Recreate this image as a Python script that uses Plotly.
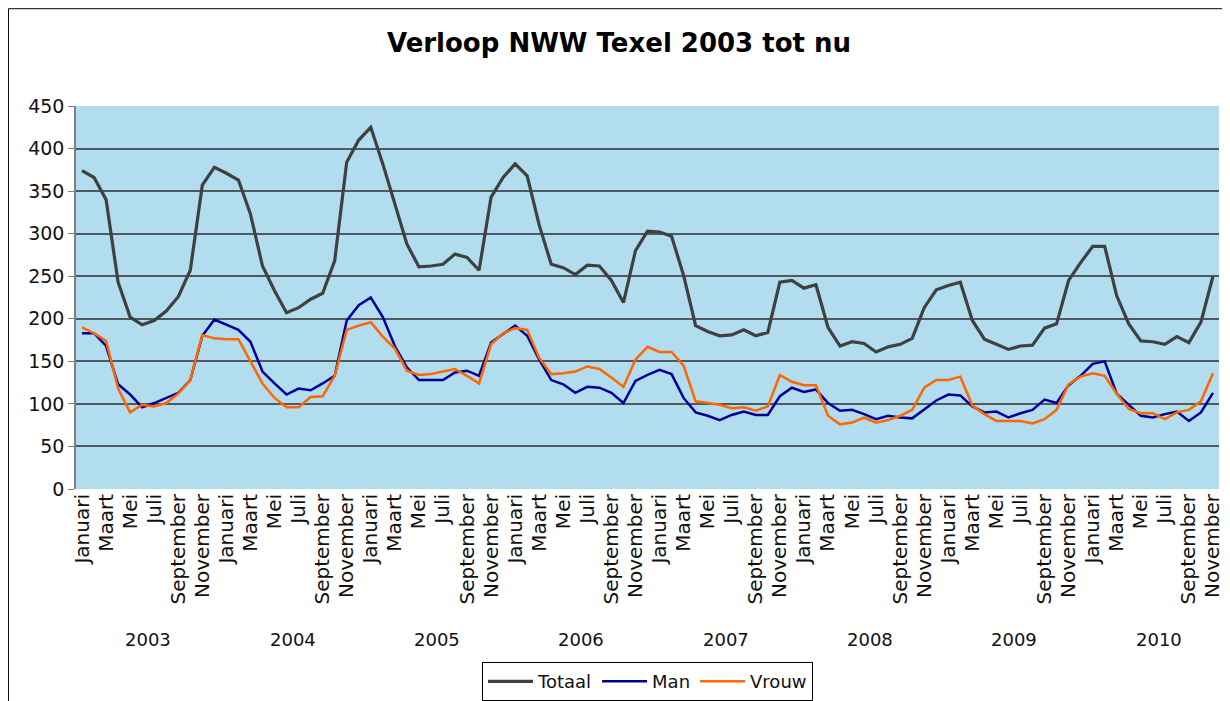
import plotly.graph_objects as go

# maanden jan 2003 .. nov 2010
years = [2003, 2004, 2005, 2006, 2007, 2008, 2009, 2010]
month_names = ["Januari", "Februari", "Maart", "April", "Mei", "Juni",
               "Juli", "Augustus", "September", "Oktober", "November", "December"]

totaal = [374, 366, 340, 243, 202, 193, 198, 209, 226, 257, 357, 378,
          371, 363, 323, 262, 233, 207, 213, 223, 230, 268, 384, 410,
          425, 382, 335, 288, 261, 262, 264, 276, 272, 257, 343, 366,
          382, 368, 310, 264, 260, 252, 263, 262, 245, 219, 280, 303,
          302, 297, 251, 192, 185, 180, 181, 187, 180, 184, 243, 245,
          236, 240, 190, 168, 173, 171, 161, 167, 170, 177, 213, 234,
          239, 243, 198, 176, 170, 164, 168, 169, 189, 194, 245, 266,
          285, 285, 227, 194, 174, 173, 170, 179, 172, 196, 250]

man = [183, 183, 168, 123, 111, 96, 101, 107, 113, 128, 180, 199,
       193, 187, 173, 138, 124, 111, 118, 116, 124, 133, 198, 216,
       225, 202, 168, 143, 128, 128, 128, 137, 139, 133, 172, 182,
       192, 180, 152, 128, 123, 113, 120, 119, 113, 101, 127, 134,
       140, 135, 107, 90, 86, 81, 87, 91, 87, 87, 109, 119,
       114, 117, 101, 92, 93, 88, 82, 86, 84, 83, 93, 104,
       111, 110, 97, 90, 91, 84, 89, 93, 105, 101, 122, 133,
       147, 150, 112, 99, 86, 84, 88, 91, 80, 90, 113]

vrouw = [190, 183, 174, 118, 90, 99, 97, 101, 112, 128, 181, 177,
         176, 176, 150, 124, 107, 96, 96, 108, 109, 133, 187, 192,
         196, 179, 165, 139, 134, 135, 138, 141, 133, 124, 170, 183,
         189, 187, 154, 135, 136, 138, 144, 141, 131, 120, 152, 167,
         161, 161, 145, 103, 101, 99, 95, 96, 92, 97, 134, 126,
         122, 122, 86, 76, 78, 84, 78, 81, 86, 93, 119, 128,
         128, 132, 98, 88, 80, 80, 80, 77, 82, 93, 123, 132,
         136, 133, 112, 94, 89, 89, 82, 90, 93, 103, 136]

x = list(range(len(totaal)))
tick_idx = [i for i in x if i % 2 == 0]
tick_txt = [month_names[i % 12] for i in tick_idx]

fnt = "DejaVu Sans"

fig = go.Figure()
fig.add_trace(go.Scatter(x=x, y=totaal, mode="lines", name="Totaal",
                         line=dict(color="#404040", width=3.2)))
fig.add_trace(go.Scatter(x=x, y=man, mode="lines", name="Man",
                         line=dict(color="#000099", width=2.5)))
fig.add_trace(go.Scatter(x=x, y=vrouw, mode="lines", name="Vrouw",
                         line=dict(color="#FF6600", width=2.5)))

# jaartallen onder de maanden
for k, yr in enumerate(years):
    fig.add_annotation(x=k * 12 + 5.5, y=-0.394, xref="x", yref="paper",
                       text=str(yr), showarrow=False, yanchor="middle",
                       font=dict(family=fnt, size=18, color="#111111"))

# rand om de hele grafiek
fig.add_shape(type="rect", xref="paper", yref="paper",
              x0=-0.0591, x1=1.0079, y0=-0.6, y1=1.254,
              line=dict(color="black", width=1), layer="below")

# de pagina heeft 8px body-marge, daarom 1222x693
fig.update_layout(
    width=1222, height=693,
    margin=dict(l=68, r=11, t=98, b=212, autoexpand=False),
    paper_bgcolor="white",
    plot_bgcolor="#B1DDEF",
    title=dict(text="<b>Verloop NWW Texel 2003 tot nu</b>", x=0.5, xanchor="center",
               y=0.9495, yanchor="middle",
               font=dict(family=fnt, size=26, color="black")),
    font=dict(family=fnt, size=18, color="#111111"),
    showlegend=True,
    legend=dict(orientation="h", x=0.5, xanchor="center", y=-0.452, yanchor="top",
                bordercolor="black", borderwidth=1, bgcolor="white",
                font=dict(family=fnt, size=18, color="#111111"),
                itemwidth=45, tracegroupgap=0),
    hovermode=False,
)

fig.update_xaxes(range=[-0.5, len(x) - 0.5], tickmode="array",
                 tickvals=tick_idx, ticktext=tick_txt, tickangle=-90,
                 showgrid=False, zeroline=False, showline=False, automargin=False,
                 ticks="", ticklen=0,
                 tickfont=dict(family=fnt, size=20, color="#111111"))
fig.update_yaxes(range=[0, 450], dtick=50, showgrid=True, gridcolor="#4E5960",
                 gridwidth=1.5, zeroline=False, showline=True, linecolor="#808080",
                 linewidth=1.5, ticks="outside", ticklen=6, tickcolor="#808080",
                 automargin=False,
                 tickfont=dict(family=fnt, size=19, color="#111111"))

fig.write_html("out.html")
